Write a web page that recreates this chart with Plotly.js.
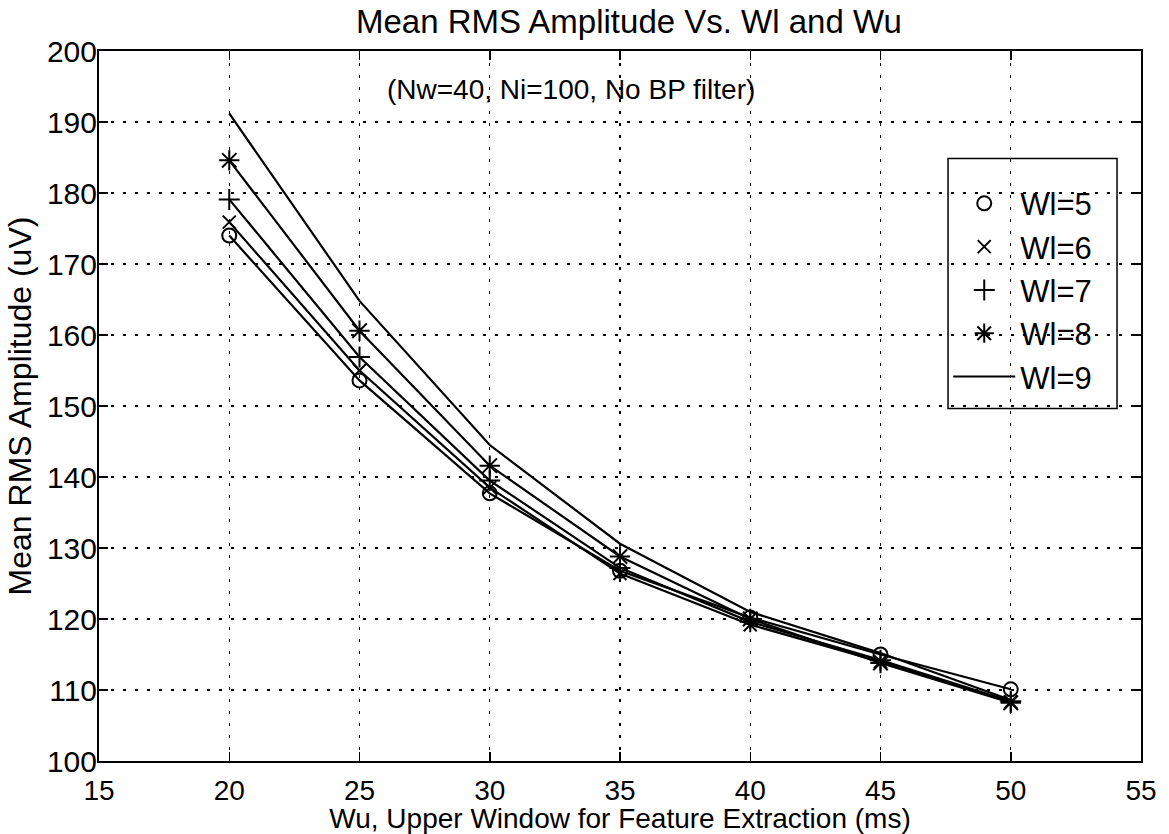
<!DOCTYPE html>
<html>
<head>
<meta charset="utf-8">
<script src="https://cdn.plot.ly/plotly-3.0.1.min.js"></script>
<style>body{margin:0;background:#fff;} #chart{width:1169px;height:834px;}</style>
</head>
<body>
<div id="chart"></div>
<script>
const wu = [20, 25, 30, 35, 40, 45, 50];
const wl5 = [174.0, 153.6, 137.7, 126.8, 120.2, 115.0, 110.1];
const wl6 = [175.9, 155.0, 138.5, 126.4, 119.2, 114.0, 108.3];
const wl7 = [179.1, 156.9, 139.5, 127.2, 119.6, 114.2, 108.4];
const wl8 = [184.6, 160.6, 141.6, 128.8, 120.0, 113.8, 108.2];
const wl9 = [191.2, 164.8, 144.5, 130.6, 121.0, 115.2, 108.6];
const seriesNames = ['Wl=5', 'Wl=6', 'Wl=7', 'Wl=8', 'Wl=9'];
const seriesData = [wl5, wl6, wl7, wl8, wl9];
const symbols = ['circle-open', 'x-thin-open', 'cross-thin-open', 'asterisk-open', null];
const symSizes = [14, 13, 15, 17, 0];
const xTicks = [15, 20, 25, 30, 35, 40, 45, 50, 55];
const yTicks = [100, 110, 120, 130, 140, 150, 160, 170, 180, 190, 200];

const FONT = '"Liberation Sans", Arial, Helvetica, sans-serif';
const traces = [];
seriesData.forEach((ys, i) => {
  traces.push({
    x: wu, y: ys, type: 'scatter', mode: 'lines',
    line: {color: '#000', width: 2.2},
    name: seriesNames[i], showlegend: i === 4, legendrank: i + 1
  });
  if (symbols[i]) {
    traces.push({
      x: wu, y: ys, type: 'scatter', mode: 'markers',
      marker: {symbol: symbols[i], size: symSizes[i], color: '#000', line: {color: '#000', width: 2}},
      name: seriesNames[i], showlegend: true, legendrank: i + 1
    });
  }
});

const axisCommon = {
  showline: true, linecolor: '#000', linewidth: 2, mirror: 'ticks',
  ticks: 'inside', ticklen: 9, tickwidth: 1.5, tickcolor: '#000',
  showgrid: true, gridcolor: '#000', gridwidth: 1.2, griddash: '3px,9px',
  zeroline: false, tickfont: {family: FONT, size: 31, color: '#000'}
};

const layout = {
  width: 1169, height: 834,
  margin: {l: 99, r: 28, t: 51, b: 73},
  paper_bgcolor: '#fff', plot_bgcolor: '#fff',
  font: {family: FONT, color: '#000'},
  title: {text: 'Mean RMS Amplitude Vs. Wl and Wu', font: {family: FONT, size: 33, color: '#000'},
          x: 0.538, xanchor: 'center', y: 0.974, yanchor: 'middle'},
  xaxis: Object.assign({}, axisCommon, {
    range: [15, 55], tickvals: xTicks, ticktext: xTicks.map(String), ticklabelstandoff: 3,
    tickfont: {family: FONT, size: 28, color: '#000'},
    title: {text: 'Wu, Upper Window for Feature Extraction (ms)', font: {family: FONT, size: 28, color: '#000'}, standoff: 0}
  }),
  yaxis: Object.assign({}, axisCommon, {
    range: [100, 200], tickvals: yTicks, ticktext: yTicks.map(String), ticklabelstandoff: -6,
    tickfont: {family: FONT, size: 30, color: '#000'},
    title: {text: 'Mean RMS Amplitude (uV)', font: {family: FONT, size: 32, color: '#000'}, standoff: 6}
  }),
  legend: {
    x: 0.815, y: 0.823, xanchor: 'left', yanchor: 'top',
    bgcolor: 'rgba(255,255,255,0)', borderwidth: 0,
    font: {family: FONT, size: 31, color: '#000'}, itemwidth: 62, tracegroupgap: 0,
    traceorder: 'normal'
  },
  shapes: [{
    type: 'rect', xref: 'paper', yref: 'paper',
    x0: 0.8148, x1: 0.977, y0: 0.4965, y1: 0.8487,
    line: {color: '#000', width: 1.5}, fillcolor: 'rgba(0,0,0,0)'
  }],
  annotations: [{
    x: 33.1, y: 194.6, xref: 'x', yref: 'y', showarrow: false,
    text: '(Nw=40, Ni=100, No BP filter)', font: {family: FONT, size: 28, color: '#000'},
    xanchor: 'center', yanchor: 'middle'
  }]
};

Plotly.newPlot('chart', traces, layout, {displayModeBar: false, staticPlot: true});
</script>
</body>
</html>
